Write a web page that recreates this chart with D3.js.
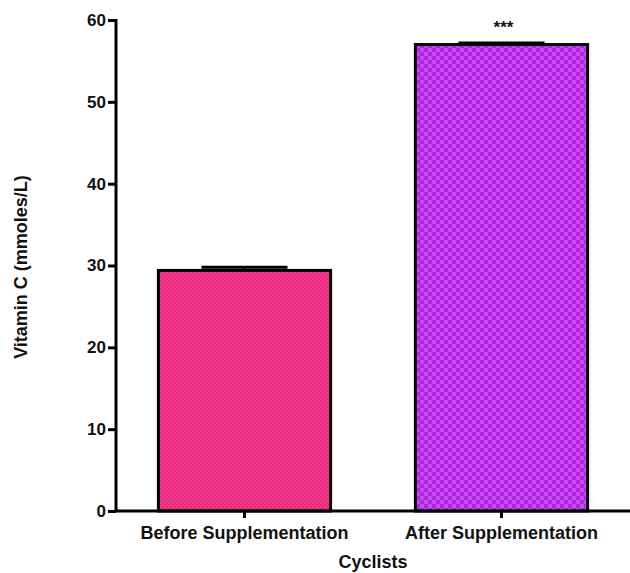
<!DOCTYPE html>
<html><head><meta charset="utf-8">
<script src="https://cdn.jsdelivr.net/npm/d3@7"></script>
<style>body{margin:0;background:#fff}svg{display:block}text{font-family:"Liberation Sans",Arial,sans-serif;font-weight:bold;fill:#111}</style>
</head><body>
<script>
const categories = ["Before Supplementation", "After Supplementation"];
const values = [29.4, 57.0];
const errors = [0.4, 0.2];
const significance = ["", "***"];
const yTicks = [0, 10, 20, 30, 40, 50, 60];
const yLabel = "Vitamin C (mmoles/L)";
const xLabel = "Cyclists";

const W = 630, H = 573;
const svg = d3.select("body").append("svg").attr("width", W).attr("height", H);
const defs = svg.append("defs");
const pats = [
  {id: "p0", size: 4, a: "#f53c8c", b: "#e4287c"},
  {id: "p1", size: 8, a: "#d043f6", b: "#a82ade"}
];
pats.forEach(p => {
  const pt = defs.append("pattern").attr("id", p.id).attr("patternUnits", "userSpaceOnUse")
    .attr("width", p.size).attr("height", p.size);
  pt.append("rect").attr("width", p.size).attr("height", p.size).attr("fill", p.a);
  pt.append("rect").attr("width", p.size/2).attr("height", p.size/2).attr("fill", p.b);
  pt.append("rect").attr("x", p.size/2).attr("y", p.size/2).attr("width", p.size/2).attr("height", p.size/2).attr("fill", p.b);
});

const x = d3.scaleBand().domain(categories).range([116, 630]).paddingInner(0.33).paddingOuter(0.165);
const y = d3.scaleLinear().domain([0, 60]).range([511, 20]);

// bars
svg.selectAll("rect.bar").data(categories).enter().append("rect")
  .attr("class", "bar")
  .attr("x", d => x(d)).attr("width", x.bandwidth())
  .attr("y", (d, i) => y(values[i])).attr("height", (d, i) => y(0) - y(values[i]))
  .attr("fill", (d, i) => `url(#p${i})`).attr("stroke", "#000").attr("stroke-width", 3);

// error bars
categories.forEach((c, i) => {
  const cx = x(c) + x.bandwidth() / 2, hw = x.bandwidth() / 4;
  svg.append("line").attr("x1", cx).attr("x2", cx).attr("y1", y(values[i])).attr("y2", y(values[i] + errors[i]))
    .attr("stroke", "#000").attr("stroke-width", 3);
  svg.append("line").attr("x1", cx - hw).attr("x2", cx + hw).attr("y1", y(values[i] + errors[i])).attr("y2", y(values[i] + errors[i]))
    .attr("stroke", "#000").attr("stroke-width", 3);
  if (significance[i]) {
    svg.append("text").attr("x", cx + 2).attr("y", y(values[i] + errors[i]) - 10).attr("text-anchor", "middle")
      .style("font-size", "17px").text(significance[i]);
  }
});

// y axis
const ya = svg.append("g").attr("transform", "translate(116,0)")
  .call(d3.axisLeft(y).tickValues(yTicks).tickSize(8).tickPadding(2).tickFormat(d3.format("d")));
ya.select(".domain").attr("stroke", "#000").attr("stroke-width", 3).attr("d", `M0,${y(60)-1}V${y(0)}`);
ya.selectAll(".tick line").attr("stroke", "#000").attr("stroke-width", 3);
ya.selectAll(".tick text").style("font-size", "17px").style("font-family", "'Liberation Sans',Arial,sans-serif").style("font-weight", "bold").attr("fill", "#111");

// x axis
const xa = svg.append("g").attr("transform", `translate(0,${y(0)})`)
  .call(d3.axisBottom(x).tickSize(7).tickPadding(8));
xa.select(".domain").attr("stroke", "#000").attr("stroke-width", 3).attr("d", `M115,0H630`);
xa.selectAll(".tick line").attr("stroke", "#000").attr("stroke-width", 3);
xa.selectAll(".tick text").style("font-size", "18px").style("font-family", "'Liberation Sans',Arial,sans-serif").style("font-weight", "bold").attr("fill", "#111");

svg.append("text").attr("x", 373).attr("y", 568).attr("text-anchor", "middle").style("font-size", "18px").text(xLabel);
svg.append("text").attr("transform", "translate(27,267) rotate(-90)").attr("text-anchor", "middle").style("font-size", "18px").text(yLabel);
</script>
</body></html>
